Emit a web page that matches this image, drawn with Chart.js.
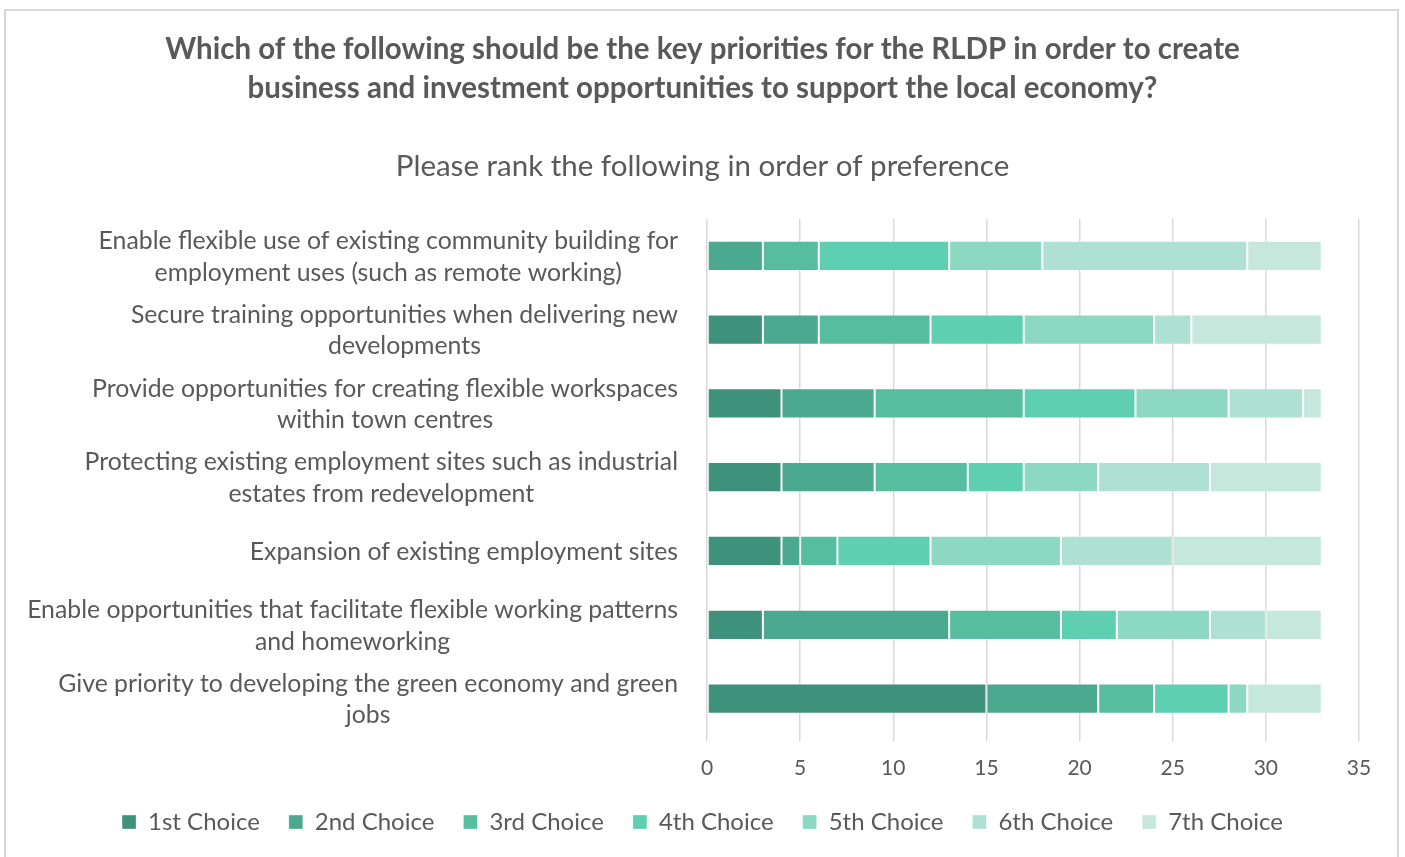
<!DOCTYPE html>
<html>
<head>
<meta charset="utf-8">
<script src="https://cdn.jsdelivr.net/npm/chart.js@4.4.1/dist/chart.umd.min.js"></script>
<style>
  html, body { margin: 0; padding: 0; background: #ffffff; overflow: hidden; }
  #wrap { position: absolute; left: 0; top: 0; width: 1405px; height: 857px; }
  #frame { position: absolute; left: 4px; top: 9px; width: 1395px; height: 860px;
           border: 2px solid #d9d9d9; box-sizing: border-box; }
  canvas { position: absolute; left: 0; top: 0; }
</style>
</head>
<body>
<div id="wrap">
  <div id="frame"></div>
  <canvas id="chart" width="1405" height="857"></canvas>
</div>
<script>
// Survey options (top to bottom), each split into display lines
const categories = [
  ["Enable flexible use of existing community building for", "employment uses (such as remote working)"],
  ["Secure training opportunities when delivering new", "developments"],
  ["Provide opportunities for creating flexible workspaces", "within town centres"],
  ["Protecting existing employment sites such as industrial", "estates from redevelopment"],
  ["Expansion of existing employment sites"],
  ["Enable opportunities that facilitate flexible working patterns", "and homeworking"],
  ["Give priority to developing the green economy and green", "jobs"]
];

// Number of respondents ranking each option at each position
const choice1 = [0, 3, 4, 4, 4, 3, 15];
const choice2 = [3, 3, 5, 5, 1, 10, 6];
const choice3 = [3, 6, 8, 5, 2, 6, 3];
const choice4 = [7, 5, 6, 3, 5, 3, 4];
const choice5 = [5, 7, 5, 4, 7, 5, 1];
const choice6 = [11, 2, 4, 6, 6, 3, 0];
const choice7 = [4, 7, 1, 6, 8, 3, 4];

const seriesNames = ["1st Choice", "2nd Choice", "3rd Choice", "4th Choice", "5th Choice", "6th Choice", "7th Choice"];
const seriesColors = ["#3e917b", "#4ba98f", "#56bd9f", "#5ecfb1", "#8dd8c0", "#aee1d1", "#c6e8dc"];
const xTicks = [0, 5, 10, 15, 20, 25, 30, 35];

const TEXT = "#595959";
const FONT = "Lato, 'Open Sans', sans-serif";

const seriesValues = [choice1, choice2, choice3, choice4, choice5, choice6, choice7];

// Category labels: block right-aligned against the plot, lines centred within the block
const categoryLabels = {
  id: "categoryLabels",
  afterDraw(chart) {
    const y = chart.scales.y;
    const ctx = chart.ctx;
    const size = 24.8, lineH = 31.5;
    ctx.save();
    ctx.font = size + "px " + FONT;
    ctx.fillStyle = TEXT;
    ctx.textAlign = "center";
    ctx.textBaseline = "middle";
    const right = chart.chartArea.left - 29;
    categories.forEach((lines, i) => {
      const w = Math.max(...lines.map(l => ctx.measureText(l).width));
      const cx = right - w / 2;
      const cy = y.getPixelForValue(i) + 1;
      const top = cy - (lines.length - 1) * lineH / 2;
      lines.forEach((l, k) => ctx.fillText(l, cx, top + k * lineH));
    });
    ctx.restore();
  }
};

new Chart(document.getElementById("chart"), {
  type: "bar",
  data: {
    labels: categories.map(c => c.join(" ")),
    datasets: seriesNames.map((name, i) => ({
      label: name,
      data: seriesValues[i],
      backgroundColor: seriesColors[i],
      borderColor: "rgba(255,255,255,0.35)",
      borderWidth: 1,
      borderSkipped: false,
      categoryPercentage: 1,
      barPercentage: 0.41
    }))
  },
  options: {
    indexAxis: "y",
    responsive: false,
    animation: false,
    layout: { padding: { left: 46, right: 46, top: 30.5, bottom: 13 } },
    scales: {
      x: {
        stacked: true,
        min: 0,
        max: 35,
        afterBuildTicks(scale) { scale.ticks = xTicks.map(v => ({ value: v })); },
        afterFit(scale) { scale.height = 45.5; },
        grid: { color: "#d9d9d9", lineWidth: 1.5, drawTicks: true, tickLength: 6, tickColor: "#d9d9d9" },
        border: { display: false },
        ticks: { color: TEXT, font: { family: FONT, size: 21 }, padding: 14 }
      },
      y: {
        stacked: true,
        grid: { display: false },
        border: { display: false },
        ticks: { display: false },
        afterFit(scale) { scale.width = 661; }
      }
    },
    plugins: {
      title: {
        display: true,
        text: [
          "Which of the following should be the key priorities for the RLDP in order to create",
          "business and investment opportunities to support the local economy?"
        ],
        color: TEXT,
        font: { family: FONT, size: 29.5, weight: "bold", lineHeight: 1.32 },
        padding: { top: 0, bottom: 40.8 }
      },
      subtitle: {
        display: true,
        text: "Please rank the following in order of preference",
        color: TEXT,
        font: { family: FONT, size: 29.5, weight: "normal", lineHeight: 1.2 },
        padding: { top: 0, bottom: 34.3 }
      },
      legend: {
        position: "bottom",
        labels: {
          color: TEXT,
          font: { family: FONT, size: 24 },
          boxWidth: 14,
          boxHeight: 14,
          padding: 29
        }
      },
      tooltip: { enabled: false }
    }
  },
  plugins: [categoryLabels]
});
</script>
</body>
</html>
